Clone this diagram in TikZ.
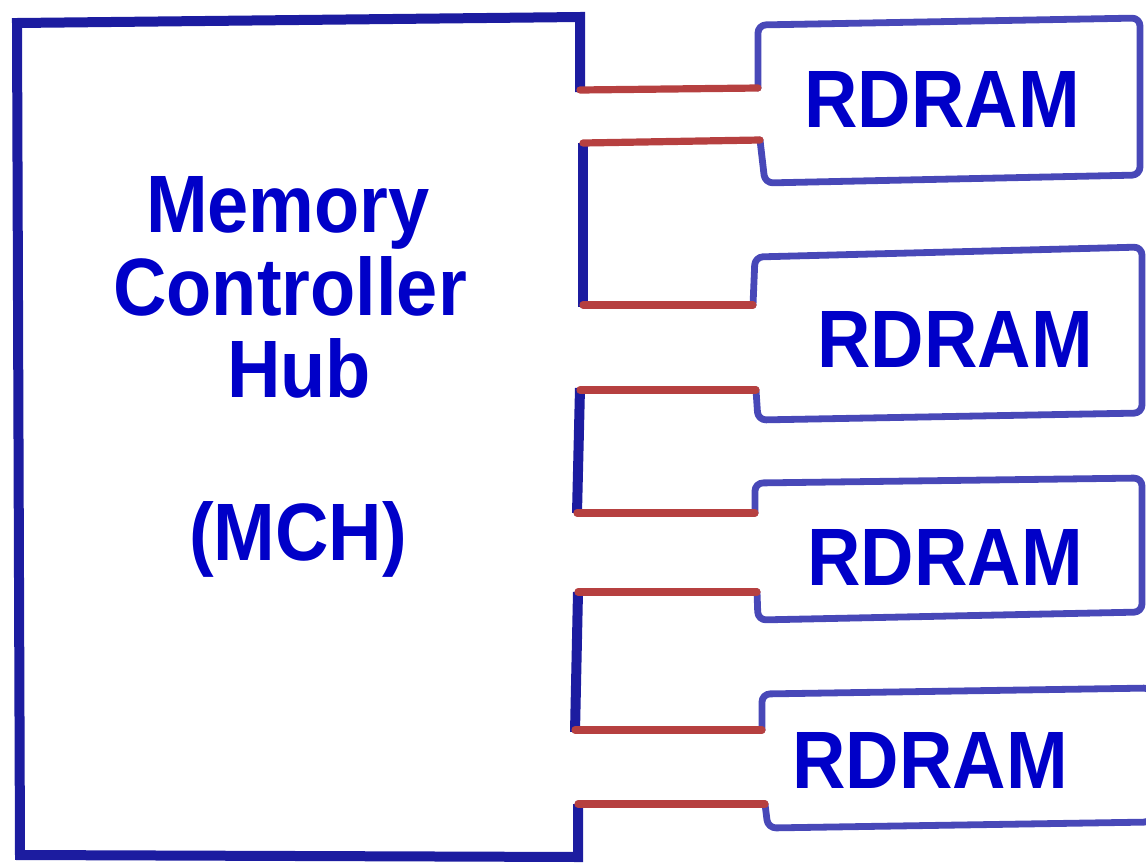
\documentclass[tikz,border=0pt]{standalone}
\usepackage{fontspec}
\setmainfont{Liberation Sans}
\usepackage{graphicx}
\definecolor{mchblue}{RGB}{28,28,160}
\definecolor{ramblue}{RGB}{72,72,184}
\definecolor{busred}{RGB}{182,64,64}
\definecolor{txtblue}{RGB}{0,0,200}
\tikzset{
  mchline/.style={draw=mchblue,line width=5pt,line join=miter},
  ramline/.style={draw=ramblue,line width=3.4pt,line join=round,line cap=round,rounded corners=4pt},
  bus/.style={draw=busred,line width=3.6pt,line cap=round},
  lbl/.style={anchor=base,inner sep=0pt,text=txtblue,font=\bfseries\fontsize{37}{40}\selectfont}
}
\newcommand{\tall}[1]{\scalebox{1}[1.1]{#1}}
\begin{document}
\begin{tikzpicture}[x=0.5pt,y=-0.5pt]
\useasboundingbox (0,0) rectangle (1146,863);
% MCH outline
\draw[mchline] (580,92) -- (580,17) -- (17,23) -- (20,855) -- (578,857) -- (578,804);
\draw[mchline] (583,143) -- (583,307);
\draw[mchline] (580,388) -- (577,513);
\draw[mchline] (578,592) -- (575,732);
% MCH ports
\coordinate (m1) at (580,90);
\coordinate (m2) at (583,143);
\coordinate (m3) at (583,305);
\coordinate (m4) at (580,390);
\coordinate (m5) at (577,513);
\coordinate (m6) at (578,592);
\coordinate (m7) at (575,730);
\coordinate (m8) at (578,804);
% RDRAM outlines
\draw[ramline] (758,88) -- (758,25) -- (1140,18) -- (1140,175) -- (765,183) -- (760,140);
\draw[ramline] (753,305) -- (755,257) -- (1142,247) -- (1142,413) -- (758,420) -- (756,390);
\draw[ramline] (755,513) -- (755,483) -- (1142,478) -- (1142,612) -- (758,620) -- (757,592);
\draw[ramline] (762,730) -- (762,694) -- (1152,688) -- (1152,822) -- (768,828) -- (765,804);
% RDRAM ports
\coordinate (r1a) at (758,88);
\coordinate (r1b) at (760,140);
\coordinate (r2a) at (753,305);
\coordinate (r2b) at (756,390);
\coordinate (r3a) at (755,513);
\coordinate (r3b) at (757,592);
\coordinate (r4a) at (762,730);
\coordinate (r4b) at (765,804);
% buses
\draw[bus] (m1) -- (r1a);
\draw[bus] (m2) -- (r1b);
\draw[bus] (m3) -- (r2a);
\draw[bus] (m4) -- (r2b);
\draw[bus] (m5) -- (r3a);
\draw[bus] (m6) -- (r3b);
\draw[bus] (m7) -- (r4a);
\draw[bus] (m8) -- (r4b);
% labels
\node[lbl] (memory) at (288,232) {\tall{Memory}};
\node[lbl] (controller) at (290,315) {\tall{Controller}};
\node[lbl] (hub) at (299,397) {\tall{Hub}};
\node[lbl] (mch) at (298,560) {\tall{(MCH)}};
\node[lbl] (ram1) at (942,127) {\tall{RDRAM}};
\node[lbl] (ram2) at (955,367) {\tall{RDRAM}};
\node[lbl] (ram3) at (945,585) {\tall{RDRAM}};
\node[lbl] (ram4) at (930,788) {\tall{RDRAM}};
\end{tikzpicture}
\end{document}
